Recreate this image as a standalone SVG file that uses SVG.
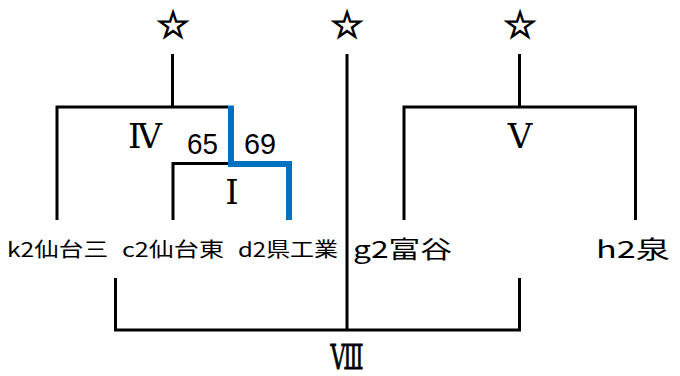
<svg xmlns="http://www.w3.org/2000/svg" width="680" height="376" viewBox="0 0 680 376">
<style>
.ln{fill:none;stroke:#000;stroke-width:3;stroke-linecap:butt;stroke-linejoin:miter}
.win{fill:none;stroke:#0070C0;stroke-width:6;stroke-linejoin:miter}
.star{font-family:"DejaVu Sans",sans-serif;font-size:38px;text-anchor:middle;fill:#000;stroke:#000;stroke-width:1.3}
.rn{font-family:"DejaVu Serif","Noto Serif CJK JP","Noto Sans CJK JP",serif;font-size:34px;text-anchor:middle;fill:#000}
.sc{font-family:"Liberation Sans",Arial,sans-serif;font-size:30px;fill:#000}
.tm{font-family:"Noto Sans CJK JP","Liberation Sans",sans-serif;fill:#000}
.s{font-size:20px}
.l{font-size:24px}
</style>
<g id="connectors">
<path class="ln" d="M172.5 54V107M57 220V107H228"/>
<path class="ln" d="M173 220V163.5H228"/>
<path class="ln" d="M347 54V330"/>
<path class="ln" d="M519.5 54V107M404 220V107H635.5V220"/>
<path class="ln" d="M115.5 278V330H519.5V278"/>
<path class="win" d="M231 105.5V164H289V220"/>
</g>
<g id="star1"><text class="star" x="173" y="38">☆</text></g>
<g id="star2"><text class="star" x="347" y="38">☆</text></g>
<g id="star3"><text class="star" x="520" y="38">☆</text></g>
<g id="r4"><text class="rn" x="145" y="148">Ⅳ</text></g>
<g id="r5"><text class="rn" x="520" y="148">Ⅴ</text></g>
<g id="r1"><text class="rn" x="232" y="204">Ⅰ</text></g>
<g id="r8"><text class="rn" x="330.5" y="369" textLength="33" lengthAdjust="spacingAndGlyphs" style="text-anchor:start;stroke:#000;stroke-width:0.8">Ⅷ</text></g>
<g id="score65"><text class="sc" x="187" y="154" textLength="31" lengthAdjust="spacingAndGlyphs">65</text></g>
<g id="score69"><text class="sc" x="244" y="154" textLength="32" lengthAdjust="spacingAndGlyphs">69</text></g>
<g id="k2"><text class="tm s" x="7" y="257" textLength="101" lengthAdjust="spacingAndGlyphs">k2仙台三</text></g>
<g id="c2"><text class="tm s" x="122" y="257" textLength="102" lengthAdjust="spacingAndGlyphs">c2仙台東</text></g>
<g id="d2"><text class="tm s" x="238" y="257" textLength="100" lengthAdjust="spacingAndGlyphs">d2県工業</text></g>
<g id="g2"><text class="tm l" x="353" y="258" textLength="99" lengthAdjust="spacingAndGlyphs">g2富谷</text></g>
<g id="h2"><text class="tm l" x="596" y="258" textLength="74" lengthAdjust="spacingAndGlyphs">h2泉</text></g>
</svg>
